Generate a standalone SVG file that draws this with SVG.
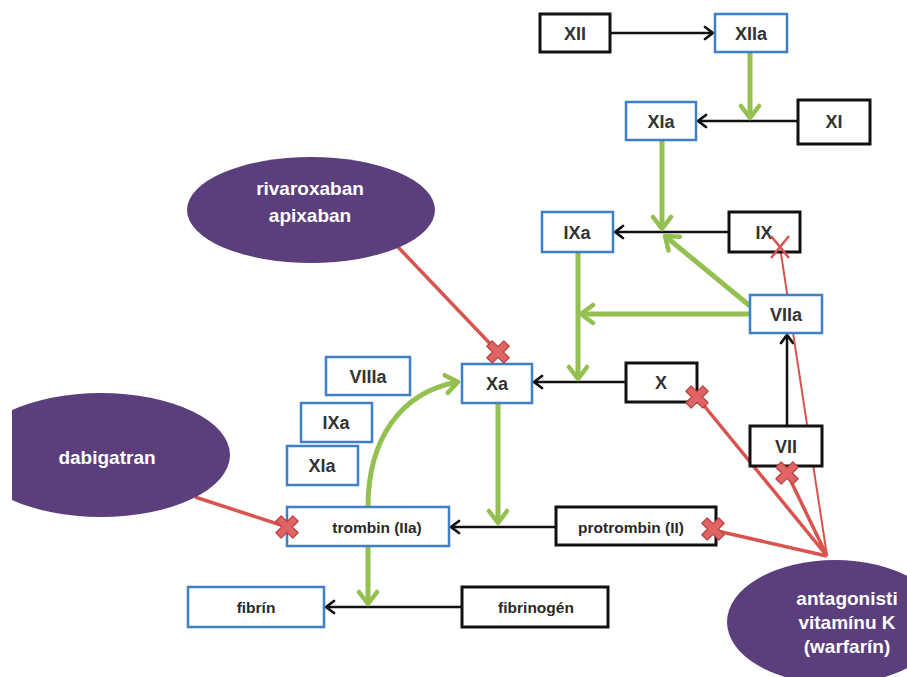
<svg xmlns="http://www.w3.org/2000/svg" xmlns:xlink="http://www.w3.org/1999/xlink" width="907" height="677" viewBox="0 0 907 677">
<style>
.bk{fill:#fff;stroke:#111;stroke-width:3}
.bl{fill:#fff;stroke:#3f7ec8;stroke-width:2.5}
.lb{font-family:"Liberation Sans",Arial,sans-serif;font-size:18px;font-weight:bold;fill:#333;text-anchor:middle;dominant-baseline:central}
.sm{font-family:"Liberation Sans",Arial,sans-serif;font-size:15.5px;font-weight:bold;fill:#2a2a2a;text-anchor:middle;dominant-baseline:central}
.dr{fill:#5b3e7c}
.dt{font-family:"Liberation Sans",Arial,sans-serif;font-size:19px;font-weight:bold;fill:#fff;text-anchor:middle;dominant-baseline:central}
.ka{fill:none;stroke:#111;stroke-width:2.5;marker-end:url(#ab)}
.ga{fill:none;stroke:#94c052;stroke-width:5;marker-end:url(#ag)}
.rl{stroke:#d9534f;stroke-width:3.5;fill:none}
.rt{stroke:#d9534f;stroke-width:2;fill:none}
</style>
<defs>
<marker id="ab" markerUnits="userSpaceOnUse" markerWidth="16" markerHeight="16" viewBox="0 0 16 16" refX="12" refY="8" orient="auto">
<path d="M4,2 L12,8 L4,14" fill="none" stroke="#111" stroke-width="2.8" stroke-linecap="round" stroke-linejoin="round"/>
</marker>
<marker id="ag" markerUnits="userSpaceOnUse" markerWidth="24" markerHeight="24" viewBox="0 0 24 24" refX="18" refY="12" orient="auto">
<path d="M6,3 L18,12 L6,21" fill="none" stroke="#94c052" stroke-width="4.5" stroke-linecap="round" stroke-linejoin="round"/>
</marker>
<g id="xm">
<path transform="rotate(45)" d="M-3.8,-12 H3.8 V-3.8 H12 V3.8 H3.8 V12 H-3.8 V3.8 H-12 V-3.8 H-3.8 Z" fill="#e06464" stroke="#b8413f" stroke-width="1.2" stroke-linejoin="round"/>
</g>
<clipPath id="clipd"><rect x="12" y="0" width="400" height="677"/></clipPath>
</defs>

<g id="connectors">
<path class="ka" d="M610,33 H713"/>
<path class="ka" d="M798,121 H698"/>
<path class="ka" d="M729,232 H615"/>
<path class="ka" d="M626,382 H534"/>
<path class="ka" d="M787,426 V335"/>
<path class="ka" d="M556,527 H451"/>
<path class="ka" d="M462,607 H326"/>

<path class="ga" d="M750,52 V118"/>
<path class="ga" d="M662,140 V229"/>
<path class="ga" d="M750,306 L665,236"/>
<path class="ga" d="M750,314 H581"/>
<path class="ga" d="M578,252 V379"/>
<path class="ga" d="M498,403 V523"/>
<path class="ga" d="M368,507 C368,440 400,392 458,382"/>
<path class="ga" d="M368,546 V604"/>

<path class="rl" d="M398,247 L498,352"/>
<path class="rl" d="M195,497 L287,527"/>
<path class="rl" d="M827,556 L697,397"/>
<path class="rl" d="M827,556 L787,473"/>
<path class="rl" d="M827,556 L713,530"/>
<path class="rt" d="M827,556 L780,247"/>
</g>

<g id="node-XII"><rect class="bk" x="540" y="14" width="70" height="38"/><text class="lb" x="575" y="34">XII</text></g>
<g id="node-XIIa"><rect class="bl" x="715" y="14" width="72" height="38"/><text class="lb" x="751" y="34">XIIa</text></g>
<g id="node-XIa"><rect class="bl" x="626" y="102" width="70" height="38"/><text class="lb" x="661" y="122">XIa</text></g>
<g id="node-XI"><rect class="bk" x="798" y="100" width="72" height="44"/><text class="lb" x="834" y="122">XI</text></g>
<g id="node-IXa"><rect class="bl" x="542" y="212" width="71" height="40"/><text class="lb" x="577" y="233">IXa</text></g>
<g id="node-IX"><rect class="bk" x="729" y="212" width="71" height="40"/><text class="lb" x="764" y="233">IX</text></g>
<g id="node-VIIa"><rect class="bl" x="750" y="295" width="72" height="38"/><text class="lb" x="786" y="315">VIIa</text></g>
<g id="node-Xa"><rect class="bl" x="462" y="364" width="70" height="39"/><text class="lb" x="497" y="384">Xa</text></g>
<g id="node-X"><rect class="bk" x="626" y="363" width="71" height="39"/><text class="lb" x="661" y="383">X</text></g>
<g id="node-VII"><rect class="bk" x="750" y="426" width="72" height="40"/><text class="lb" x="786" y="447">VII</text></g>
<g id="node-VIIIa"><rect class="bl" x="326" y="357" width="84" height="38"/><text class="lb" x="368" y="377">VIIIa</text></g>
<g id="node-IXa2"><rect class="bl" x="301" y="403" width="71" height="39"/><text class="lb" x="336" y="423">IXa</text></g>
<g id="node-XIa2"><rect class="bl" x="287" y="446" width="71" height="39"/><text class="lb" x="322" y="466">XIa</text></g>
<g id="node-trombin"><rect class="bl" x="287" y="507" width="162" height="39"/><text class="sm" x="377" y="527">trombin (IIa)</text></g>
<g id="node-protrombin"><rect class="bk" x="556" y="507" width="160" height="38"/><text class="sm" x="631" y="527">protrombin (II)</text></g>
<g id="node-fibrin"><rect class="bl" x="188" y="587" width="136" height="40"/><text class="sm" x="256" y="607">fibrín</text></g>
<g id="node-fibrinogen"><rect class="bk" x="462" y="587" width="146" height="40"/><text class="sm" x="536" y="607">fibrinogén</text></g>

<g id="drug-rivaroxaban"><ellipse class="dr" cx="311" cy="210" rx="124" ry="53"/><text class="dt" x="310" y="188">rivaroxaban</text><text class="dt" x="310" y="215">apixaban</text></g>
<g id="drug-dabigatran"><ellipse class="dr" cx="101" cy="455" rx="129" ry="62" clip-path="url(#clipd)"/><text class="dt" x="107" y="457">dabigatran</text></g>
<g id="drug-warfarin"><ellipse class="dr" cx="835" cy="622" rx="108" ry="62"/><text class="dt" x="847" y="598">antagonisti</text><text class="dt" x="847" y="622">vitamínu K</text><text class="dt" x="847" y="646">(warfarín)</text></g>

<g id="inhibition-marks">
<use xlink:href="#xm" transform="translate(498,352)"/>
<use xlink:href="#xm" transform="translate(287,527)"/>
<use xlink:href="#xm" transform="translate(697,397)"/>
<use xlink:href="#xm" transform="translate(787,473)"/>
<use xlink:href="#xm" transform="translate(713,529)"/>
<path d="M771,236 L789,258 M789,236 L771,258" stroke="#d9534f" stroke-width="2.5" fill="none"/>
</g>
</svg>
